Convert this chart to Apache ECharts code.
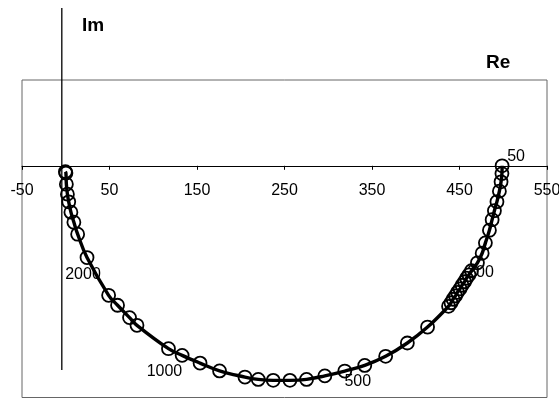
<!DOCTYPE html>
<html>
<head>
<meta charset="utf-8">
<script src="https://cdn.jsdelivr.net/npm/echarts@6/dist/echarts.min.js"></script>
<style>html,body{margin:0;padding:0;background:#fff}#c{width:559px;height:399px}</style>
</head>
<body>
<div id="c"></div>
<script>
// Real part (Re) of each measured point, from 50 Hz to high frequency
var reValues = [498.7, 498.5, 497.5, 495.6, 492.8, 489.9, 487.3, 484.2, 479.6, 475.9, 470.5,
  463.7, 460.8, 458.0, 455.7, 452.9, 450.6, 447.7, 445.4, 442.6, 440.3, 437.5,
  413.5, 390.4, 365.6, 341.7, 318.9, 296.1, 275.2, 256.2, 237.1, 220.0, 204.8,
  175.8, 153.5, 133.0, 117.4, 81.4, 72.9, 59.2, 49.0, 24.3, 13.6, 9.3, 5.9, 3.4, 1.9, 0.7, 0.2, -0.4];
// Imaginary part (Im)
var imValues = [0.0, -9.1, -18.7, -29.5, -41.8, -52.3, -62.8, -75.0, -89.8, -101.9, -113.0,
  -122.3, -127.0, -131.0, -135.1, -139.2, -143.3, -147.4, -151.5, -155.5, -159.6, -163.7,
  -187.9, -206.5, -222.0, -232.6, -239.2, -244.8, -248.9, -250.0, -250.0, -248.9, -246.2,
  -239.0, -229.9, -220.9, -213.1, -185.9, -176.9, -162.5, -150.9, -106.9, -79.7, -65.7, -54.0, -42.0, -33.0, -21.4, -8.5, -6.8];
// Frequency annotations (Hz) and the point index they belong to
var freqLabelText = ['50', '200', '500', '1000', '2000'];
var freqLabelIndex = [0, 11, 26, 36, 41];
// X tick range
var xMin = -50, xMax = 550, xStep = 100;
var yMin = -270, yMax = 100;
// Drawn "Im" axis line (Re, Im endpoints)
var imAxisRe = [-4.5, -4.5];
var imAxisIm = [184, -238];

var labelOffsets = [[14, -9], [9, 2], [13, 11], [-4, 23], [-4, 17]];
var FONT = 'Liberation Sans, Arial, sans-serif';
var GRID = { left: 22, right: 12, top: 80, bottom: 1.5 };
var gridH = 399 - GRID.top - GRID.bottom;
var axisShift = -(0 - yMin) / (yMax - yMin) * gridH;

var data = reValues.map(function (r, i) { return { value: [r, imValues[i]] }; });
freqLabelIndex.forEach(function (idx, k) {
  data[idx].label = {
    show: true, formatter: freqLabelText[k], position: 'inside',
    offset: labelOffsets[k], color: '#000', fontSize: 16, fontFamily: FONT
  };
});

var chart = echarts.init(document.getElementById('c'));
chart.setOption({
  animation: false,
  grid: { left: GRID.left, right: GRID.right, top: GRID.top, bottom: GRID.bottom, containLabel: false, outerBoundsMode: 'none',
    show: true, borderColor: '#666', borderWidth: 1, backgroundColor: '#fff' },
  xAxis: {
    type: 'value', min: xMin, max: xMax, interval: xStep, position: 'bottom', offset: axisShift,
    axisLine: { onZero: false, lineStyle: { color: '#000', width: 1 } },
    axisTick: { show: true, inside: false, length: 4, lineStyle: { color: '#000' } },
    axisLabel: { color: '#000', fontSize: 16, fontFamily: FONT, margin: 17 },
    splitLine: { show: false }
  },
  yAxis: {
    type: 'value', min: yMin, max: yMax,
    axisLine: { show: false }, axisTick: { show: false }, axisLabel: { show: false },
    splitLine: { show: false }
  },
  graphic: [
    { type: 'text', left: 82, top: 16, style: { text: 'Im', font: 'bold 19px ' + FONT, fill: '#000' } },
    { type: 'text', left: 486, top: 53, style: { text: 'Re', font: 'bold 19px ' + FONT, fill: '#000' } }
  ],
  series: [
    {
      type: 'line', silent: true, clip: false, symbol: 'none',
      data: [[imAxisRe[0], imAxisIm[0]], [imAxisRe[1], imAxisIm[1]]],
      lineStyle: { color: '#000', width: 1.3 }, z: 1
    },
    {
      type: 'line', smooth: 0.4, clip: false,
      symbol: 'circle', symbolSize: 13,
      itemStyle: { color: 'rgba(0,0,0,0)', borderColor: '#000', borderWidth: 1.8 },
      lineStyle: { color: '#000', width: 3.4 },
      data: data, z: 3
    }
  ]
});
</script>
</body>
</html>
